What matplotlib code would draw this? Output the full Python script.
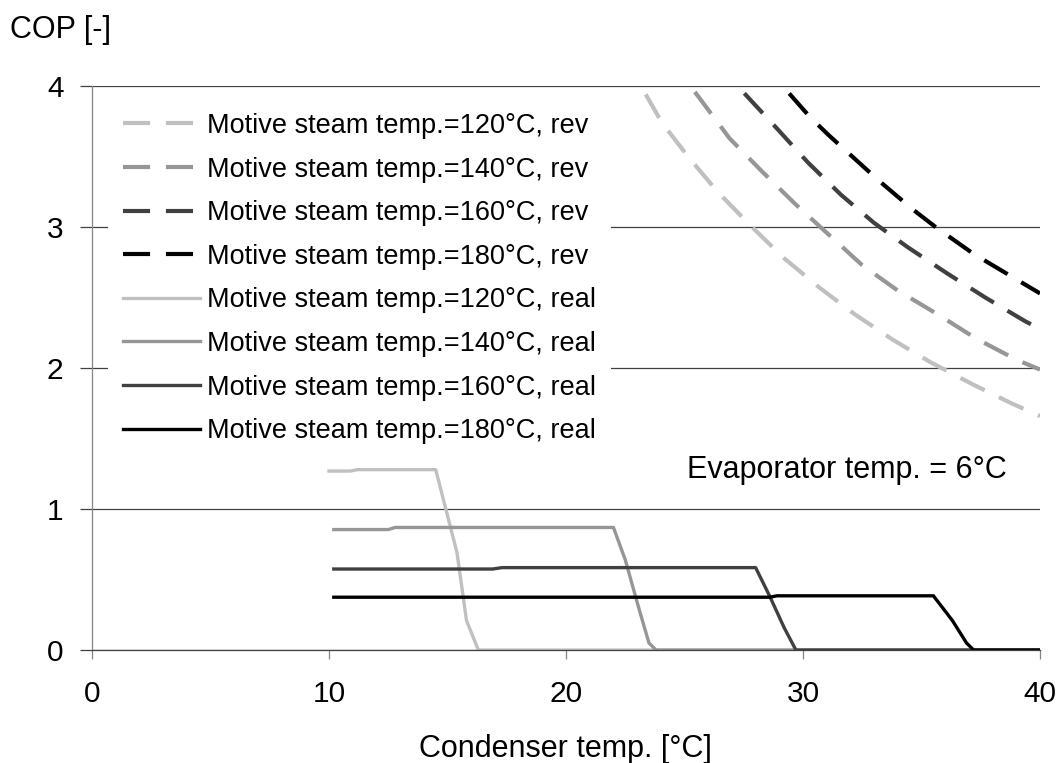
import numpy as np
import matplotlib.pyplot as plt

plt.rcParams['font.family'] = ['Liberation Sans', 'DejaVu Sans']

# reversible COP curves
rev120_x = [22.5, 23.2, 24.05, 25.2, 26.4, 27.85, 29.2, 30.7, 32.2, 33.8, 35.4, 37.1, 38.8, 40.0]
rev120_y = [4.21, 3.99, 3.74, 3.49, 3.25, 3.00, 2.78, 2.57, 2.38, 2.20, 2.04, 1.89, 1.75, 1.66]
rev140_x = [24.5, 25.3, 26.9, 28.3, 29.7, 31.0, 32.5, 34.0, 35.7, 37.3, 39.0, 40.0]
rev140_y = [4.22, 3.99, 3.63, 3.39, 3.16, 2.96, 2.73, 2.55, 2.38, 2.21, 2.06, 1.99]
rev160_x = [26.5, 27.3, 28.9, 30.2, 31.6, 33.0, 34.4, 36.1, 37.7, 39.4, 40.0]
rev160_y = [4.20, 3.99, 3.70, 3.46, 3.23, 3.03, 2.86, 2.67, 2.50, 2.33, 2.28]
rev180_x = [28.4, 29.2, 30.3, 31.1, 33.2, 34.6, 35.6, 37.2, 38.8, 40.0]
rev180_y = [4.20, 3.99, 3.78, 3.65, 3.33, 3.13, 3.00, 2.81, 2.65, 2.53]

# real COP curves
real120_x = [10.0, 10.9, 11.2, 14.5, 14.8, 15.4, 15.8, 16.3, 40.0]
real120_y = [1.27, 1.27, 1.28, 1.28, 1.085, 0.69, 0.21, 0.0, 0.0]
real140_x = [10.2, 12.5, 12.8, 22.0, 22.5, 23.1, 23.5, 23.8, 40.0]
real140_y = [0.855, 0.855, 0.87, 0.87, 0.64, 0.28, 0.05, 0.0, 0.0]
real160_x = [10.2, 16.9, 17.3, 28.0, 28.6, 29.2, 29.7, 40.0]
real160_y = [0.575, 0.575, 0.585, 0.585, 0.38, 0.16, 0.0, 0.0]
real180_x = [10.2, 28.6, 28.9, 35.5, 36.3, 36.9, 37.2, 40.0]
real180_y = [0.375, 0.375, 0.385, 0.385, 0.21, 0.05, 0.0, 0.0]

temps = ['120', '140', '160', '180']
colors = ['#c0c0c0', '#969696', '#404040', '#000000']

fig = plt.figure(figsize=(10.59, 7.63), dpi=100)
ax = fig.add_axes([0.0869, 0.148, 0.8952, 0.739])

rev = [(rev120_x, rev120_y), (rev140_x, rev140_y), (rev160_x, rev160_y), (rev180_x, rev180_y)]
real = [(real120_x, real120_y), (real140_x, real140_y), (real160_x, real160_y), (real180_x, real180_y)]

for (x, y), t, c in zip(rev, temps, colors):
    ax.plot(x, y, color=c, lw=3.0, dashes=(6.5, 3.8),
            label='Motive steam temp.=%s°C, rev' % t)
for (x, y), t, c in zip(real, temps, colors):
    ax.plot(x, y, color=c, lw=2.4, solid_joinstyle='round',
            label='Motive steam temp.=%s°C, real' % t)

ax.set_xlim(0, 40)
ax.set_ylim(0, 4)
ax.set_xticks([0, 10, 20, 30, 40])
ax.set_yticks([0, 1, 2, 3, 4])
ax.yaxis.grid(True, color='#404040', lw=0.9)
ax.set_axisbelow(True)
for s in ['top', 'right']:
    ax.spines[s].set_visible(False)
ax.spines['left'].set_color('#868686')
ax.spines['bottom'].set_color('#404040')
for s in ['left', 'bottom']:
    ax.spines[s].set_linewidth(0.9)
ax.tick_params(axis='y', labelsize=21.5, length=8.6, width=0.9, color='#404040', pad=12)
ax.tick_params(axis='x', labelsize=21.5, length=6.5, width=0.9, color='#868686', pad=15)

leg = ax.legend(loc='upper left', bbox_to_anchor=(0.0169, 0.979), frameon=True,
                fontsize=19.5, handlelength=2.85, handletextpad=0.26,
                labelspacing=0.65, borderpad=0.55, borderaxespad=0)
leg.get_frame().set_facecolor('white')
leg.get_frame().set_edgecolor('none')
leg.get_frame().set_alpha(1)
leg.get_frame().set_boxstyle('square', pad=0)

ax.text(25.1, 1.28, 'Evaporator temp. = 6°C', fontsize=22, va='center')
fig.text(10 / 1059, 1 - 30 / 763, 'COP [-]', fontsize=22, va='center')
fig.text(0.534, 1 - 749 / 763, 'Condenser temp. [°C]', fontsize=22,
         ha='center', va='center')

plt.savefig('out.png')
